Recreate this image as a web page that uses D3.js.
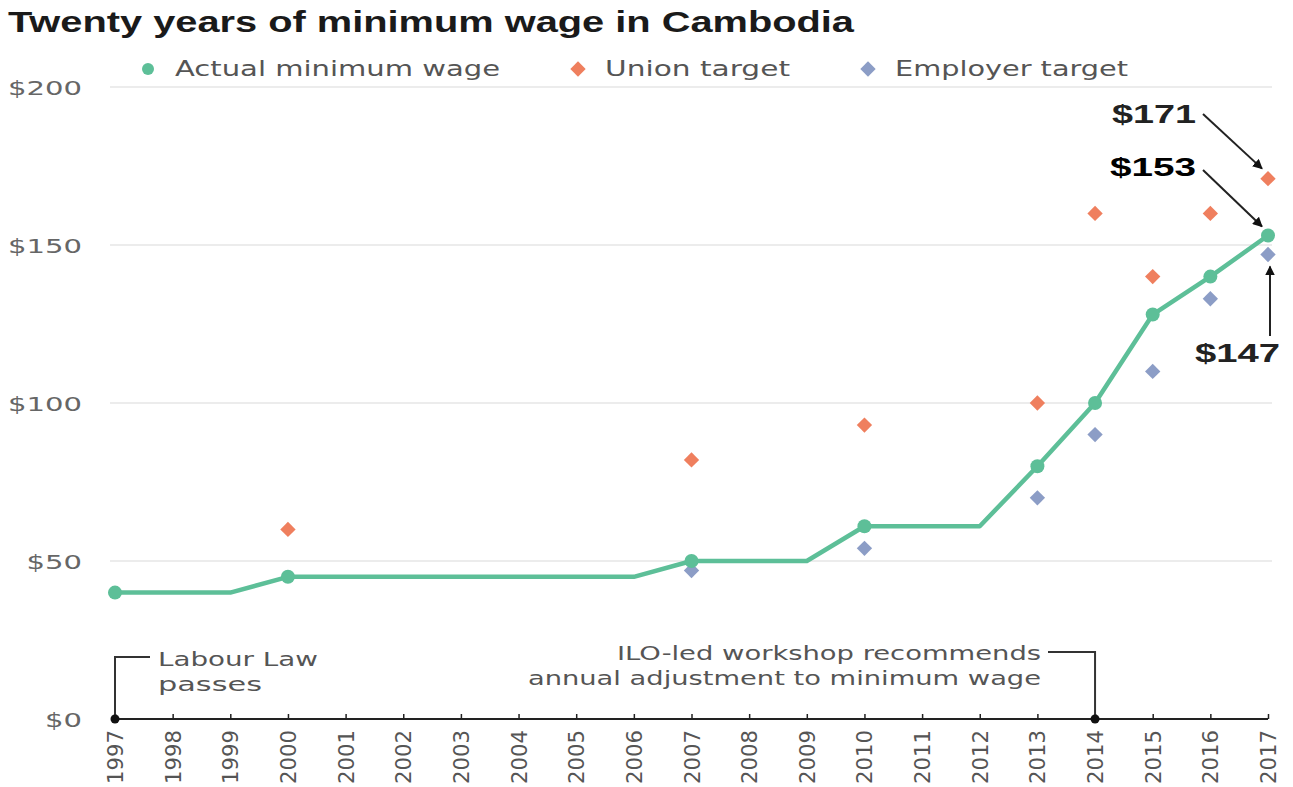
<!DOCTYPE html>
<html><head><meta charset="utf-8">
<script src="https://cdn.jsdelivr.net/npm/d3@7"></script>
<style>body{margin:0;background:#fff;} svg{display:block;}</style>
</head><body>
<svg id="c" width="1293" height="787"></svg>
<script>
const years = d3.range(1997, 2018);
const actualWage = [40,40,40,45,45,45,45,45,45,45,50,50,50,61,61,61,80,100,128,140,153];
const markerYears = [1997,2000,2007,2010,2013,2014,2015,2016,2017];
const unionYears = [2000,2007,2010,2013,2014,2015,2016,2017];
const unionTarget = [60,82,93,100,160,140,160,171];
const employerYears = [2007,2010,2013,2014,2015,2016,2017];
const employerTarget = [47,54,70,90,110,133,147];
const yTicks = [0,50,100,150,200];
const legendLabels = ["Actual minimum wage","Union target","Employer target"];

const C_ACT = "#5dbf98", C_UNI = "#ef7f5e", C_EMP = "#8c9dc6";
const svg = d3.select("#c");
const font = "'DejaVu Sans', 'Liberation Sans', Arial, sans-serif";
const fontB = "'Liberation Sans', Arial, sans-serif";

const x = d3.scaleLinear().domain([1997,2017]).range([115,1268]);
const y = d3.scaleLinear().domain([0,200]).range([719,87]);

function stretch(sel, w){ sel.attr("textLength",w).attr("lengthAdjust","spacingAndGlyphs"); }

// title
svg.append("text").attr("x",8).attr("y",32).text("Twenty years of minimum wage in Cambodia")
  .attr("font-family",fontB).attr("font-weight","bold").attr("font-size",29).attr("fill","#1a1a1a")
  .call(stretch,846);

// gridlines
svg.append("g").selectAll("line").data(yTicks.filter(d=>d>0)).join("line")
  .attr("x1",110).attr("x2",1272).attr("y1",d=>y(d)).attr("y2",d=>y(d))
  .attr("stroke","#e6e6e6").attr("stroke-width",1.5);

// y axis labels
const yAxis = d3.axisLeft(y).tickValues(yTicks).tickSize(0).tickPadding(0).tickFormat(d=>"$"+d);
const gy = svg.append("g").attr("transform","translate(82,0)").call(yAxis);
gy.select(".domain").remove();
gy.selectAll("text").attr("font-family",font).attr("font-size",20).attr("fill","#666")
  .attr("dy","0.35em").each(function(){ const t=d3.select(this).text(); d3.select(this).call(stretch, t.length*18.5); });

// x axis
const xAxis = d3.axisTop(x).tickValues(years).tickSize(5).tickFormat("");
const gx = svg.append("g").attr("transform","translate(0,719)").call(xAxis);
gx.select(".domain").attr("stroke","#222").attr("stroke-width",2).attr("d","M115,0H1268");
gx.selectAll(".tick line").attr("stroke","#222").attr("stroke-width",1.5);
svg.append("g").selectAll("text").data(years).join("text")
  .attr("transform",d=>`translate(${x(d)+8},730) rotate(-90)`)
  .attr("text-anchor","end").text(d=>d)
  .attr("font-family",font).attr("font-size",21).attr("fill","#555").call(stretch,54);

// annotations
svg.append("path").attr("d",`M${x(1997)},719V657H150`).attr("fill","none").attr("stroke","#333").attr("stroke-width",2);
svg.append("path").attr("d",`M1048,652H${x(2014)}V719`).attr("fill","none").attr("stroke","#333").attr("stroke-width",2);
svg.append("circle").attr("cx",x(1997)).attr("cy",719).attr("r",4.5).attr("fill","#111");
svg.append("circle").attr("cx",x(2014)).attr("cy",719).attr("r",4.5).attr("fill","#111");
const ann = svg.append("g").attr("font-family",font).attr("font-size",20).attr("fill","#555");
ann.append("text").attr("x",158).attr("y",666).text("Labour Law").call(stretch,160);
ann.append("text").attr("x",158).attr("y",691).text("passes").call(stretch,104);
ann.append("text").attr("x",1041).attr("y",660).attr("text-anchor","end").text("ILO-led workshop recommends").call(stretch,424);
ann.append("text").attr("x",1041).attr("y",685).attr("text-anchor","end").text("annual adjustment to minimum wage").call(stretch,513);

// actual line
const line = d3.line().x((d,i)=>x(years[i])).y(d=>y(d));
svg.append("path").datum(actualWage).attr("d",line).attr("fill","none")
  .attr("stroke",C_ACT).attr("stroke-width",4.5).attr("stroke-linejoin","round");

const diamond = d3.symbol().type(d3.symbolDiamond2).size(150);
// employer
svg.append("g").selectAll("path").data(employerTarget).join("path")
  .attr("d",diamond).attr("transform",(d,i)=>`translate(${x(employerYears[i])},${y(d)})`).attr("fill",C_EMP);
// union
svg.append("g").selectAll("path").data(unionTarget).join("path")
  .attr("d",diamond).attr("transform",(d,i)=>`translate(${x(unionYears[i])},${y(d)})`).attr("fill",C_UNI);
// actual dots
svg.append("g").selectAll("circle").data(markerYears).join("circle")
  .attr("cx",d=>x(d)).attr("cy",d=>y(actualWage[years.indexOf(d)])).attr("r",7).attr("fill",C_ACT);

// value callouts
svg.append("defs").append("marker").attr("id","ah").attr("viewBox","0 0 10 10").attr("refX",9).attr("refY",5)
  .attr("markerWidth",5).attr("markerHeight",5).attr("orient","auto")
  .append("path").attr("d","M0,0L10,5L0,10z").attr("fill","#111");
const cl = svg.append("g").attr("font-family",fontB).attr("font-weight","bold").attr("font-size",25).attr("fill","#222");
const x17 = x(2017);
cl.append("text").attr("x",1196).attr("y",123).attr("text-anchor","end").text("$"+unionTarget[unionTarget.length-1]).call(stretch,84);
cl.append("text").attr("x",1196).attr("y",176).attr("text-anchor","end").attr("fill","#000").text("$"+actualWage[actualWage.length-1]).call(stretch,86);
cl.append("text").attr("x",1280).attr("y",362).attr("text-anchor","end").text("$"+employerTarget[employerTarget.length-1]).call(stretch,85);
const ar = svg.append("g").attr("stroke","#222").attr("stroke-width",2).attr("fill","none");
ar.append("line").attr("x1",1203).attr("y1",114).attr("x2",x17-6).attr("y2",y(171)-10).attr("marker-end","url(#ah)");
ar.append("line").attr("x1",1203).attr("y1",170).attr("x2",x17-6).attr("y2",y(153)-9).attr("marker-end","url(#ah)");
ar.append("line").attr("x1",x17+2).attr("y1",336).attr("x2",x17+2).attr("y2",y(147)+12).attr("marker-end","url(#ah)");

// legend
const lg = svg.append("g").attr("font-family",font).attr("font-size",22).attr("fill","#555");
lg.append("circle").attr("cx",148).attr("cy",69).attr("r",6).attr("fill",C_ACT);
lg.append("path").attr("d",diamond).attr("transform","translate(578,69)").attr("fill",C_UNI);
lg.append("path").attr("d",diamond).attr("transform","translate(868,69)").attr("fill",C_EMP);
lg.append("text").attr("x",175).attr("y",76).text(legendLabels[0]).call(stretch,325);
lg.append("text").attr("x",605).attr("y",76).text(legendLabels[1]).call(stretch,185);
lg.append("text").attr("x",895).attr("y",76).text(legendLabels[2]).call(stretch,233);
</script>
</body></html>
